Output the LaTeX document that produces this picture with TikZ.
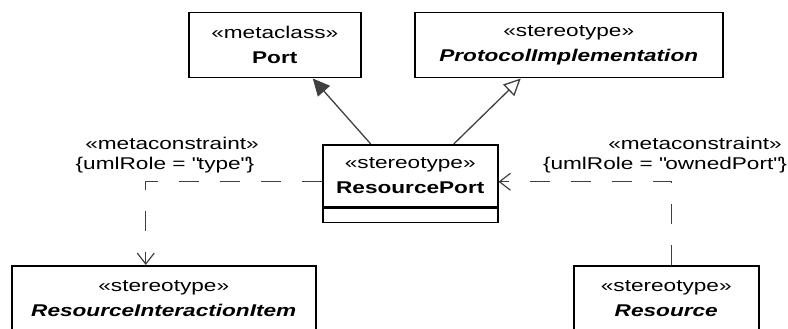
\documentclass[tikz,border=0pt]{standalone}
\usepackage{fontspec}
\setmainfont{Liberation Sans}[FakeStretch=1.33]
\usetikzlibrary{arrows.meta}

\begin{document}
\begin{tikzpicture}[x=1pt, y=-1pt,
		box/.style={draw=black, line width=1.5pt, fill=white, align=center, inner sep=0pt,
			font=\fontsize{17}{25}\selectfont},
		lbl/.style={align=center, inner sep=0pt, font=\fontsize{17}{22}\selectfont},
		gen/.style={draw=black!75, line width=1.3pt},
		dep/.style={draw=black!75, line width=1.3pt, dash pattern=on 20pt off 21pt,
			-{Straight Barb[length=11pt, width=17pt, line width=1.2pt]}}]
		\useasboundingbox (0,0) rectangle (788,329);
		\clip (0,0) rectangle (788,329);
		\node[box, anchor=north west, minimum width=172pt, minimum height=65pt] (port) at (188,12)
			{«metaclass»\\\textbf{Port}};
		\node[box, anchor=north west, minimum width=308pt, minimum height=65pt] (prot) at (414,12)
			{«stereotype»\\\textbf{\textit{ProtocolImplementation}}};
		\node[box, anchor=north west, minimum width=175pt, minimum height=62pt] (rp) at (322,144)
			{«stereotype»\\\textbf{ResourcePort}};
		\node[box, anchor=north, minimum width=175pt, minimum height=14pt] (rpbody) at (rp.south) {};
		\node[box, anchor=north west, minimum width=304pt, minimum height=66pt] (rii) at (11,265)
			{«stereotype»\\\textbf{\textit{ResourceInteractionItem}}};
		\node[box, anchor=north west, minimum width=185pt, minimum height=66pt] (res) at (573,265)
			{«stereotype»\\\textbf{\textit{Resource}}};
		% generalizations
		\draw[gen, -{Triangle[length=17pt, width=16pt]}] ([xshift=-39.5pt]rp.north) -- ([xshift=38pt]port.south);
		\draw[gen, -{Triangle[open, length=17pt, width=16pt, fill=white]}] ([xshift=43.5pt]rp.north) -- ([xshift=-48pt]prot.south);
		% metaconstraints
		\draw[dep] ([yshift=-6pt]rp.west) -| ([xshift=-18pt]rii.north);
		\draw[dep] ([xshift=5.5pt]res.north) |- ([yshift=-6pt]rp.east);
		\node[lbl] (mcl) at (172,143) {«metaconstraint»};
		\node[lbl] (mcltag) at (165,165) {\{umlRole = \textquotedbl type\textquotedbl\}};
		\node[lbl] (mcr) at (695,143) {«metaconstraint»};
		\node[lbl] (mcrtag) at (665,165) {\{umlRole = \textquotedbl ownedPort\textquotedbl\}};
	\end{tikzpicture}
\end{document}
